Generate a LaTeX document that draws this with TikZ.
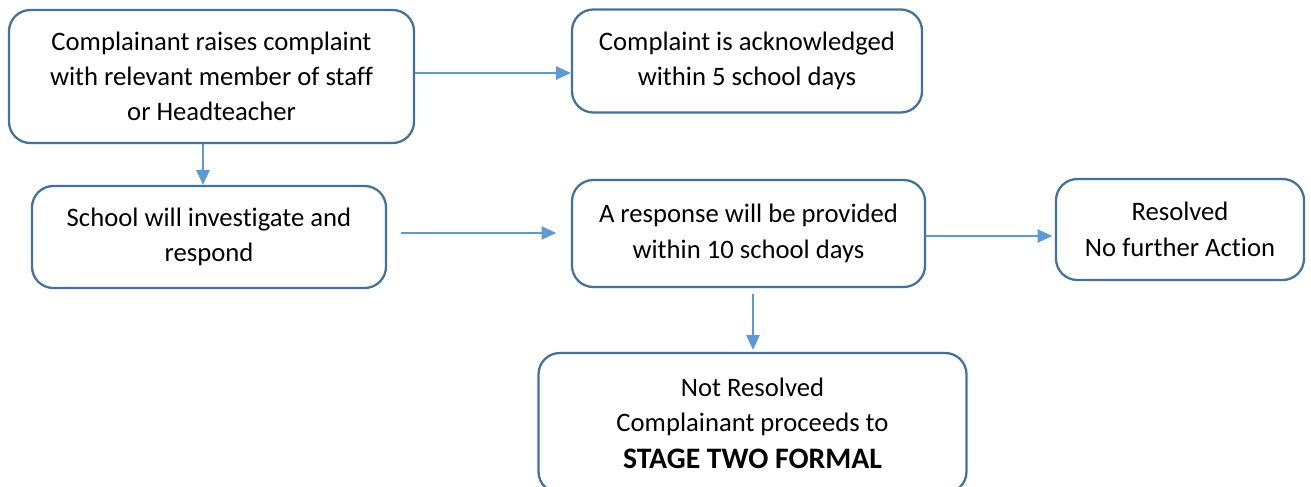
\documentclass[tikz,border=0pt]{standalone}
\usepackage{fontspec}
\setmainfont{Carlito}[Ligatures=NoCommon]
\usetikzlibrary{arrows.meta,calc}
\definecolor{boxline}{HTML}{41719C}
\definecolor{arrline}{HTML}{5B9BD5}
\begin{document}
\begin{tikzpicture}[x=0.75pt,y=-0.75pt,
  flowbox/.style={draw=boxline,line width=1.7pt,rounded corners=16pt,align=center,
    inner sep=0pt,font=\fontsize{20}{26.5}\selectfont},
  arr/.style={draw=arrline,line width=1pt,-{Triangle[length=11pt,width=10pt]}}]
\useasboundingbox (0,0) rectangle (1311,486);
\node[flowbox,minimum width=405*0.75pt,minimum height=133*0.75pt] (A) at (211.5,76.5)
  {Complainant raises complaint\\with relevant member of staff\\or Headteacher};
\node[flowbox,minimum width=350*0.75pt,minimum height=103*0.75pt] (B) at (747,61)
  {Complaint is acknowledged\\within 5 school days};
\node[flowbox,minimum width=354*0.75pt,minimum height=102*0.75pt] (C) at (209,237)
  {School will investigate and\\respond};
\node[flowbox,minimum width=353*0.75pt,minimum height=107*0.75pt] (D) at (748.5,233.5)
  {A response will be provided\\within 10 school days};
\node[flowbox,minimum width=248*0.75pt,minimum height=101*0.75pt] (E) at (1180,229.5)
  {Resolved\\No further Action};
\node[flowbox,minimum width=428*0.75pt,minimum height=140*0.75pt] (F) at (752.5,423)
  {Not Resolved\\Complainant proceeds to\\[1pt]{\bfseries\fontsize{22.3}{26}\selectfont STAGE TWO FORMAL}};
\coordinate (ax) at (203,0);
\coordinate (fx) at (753,0);
\draw[arr] ([shift={(0,-3.5)}]A.east) -- ([shift={(0,-3.5)}]A.east -| B.west);
\draw[arr] (A.south -| ax) -- (C.north -| ax);
\draw[arr,shorten <=10.5pt,shorten >=11pt] ([shift={(0,-4)}]C.east) -- ([shift={(0,-4)}]C.east -| D.west);
\draw[arr,shorten >=2pt] ([shift={(0,2.5)}]D.east) -- ([shift={(0,2.5)}]D.east -| E.west);
\draw[arr,shorten <=4.5pt,shorten >=1.5pt] (D.south -| fx) -- (F.north -| fx);
\end{tikzpicture}
\end{document}
